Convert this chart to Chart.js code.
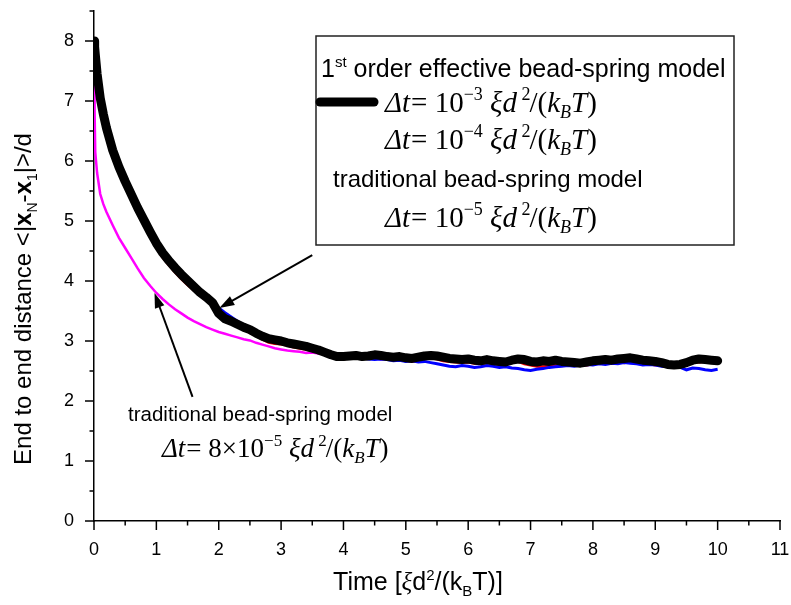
<!DOCTYPE html>
<html><head><meta charset="utf-8">
<script src="https://cdn.jsdelivr.net/npm/chart.js@4/dist/chart.umd.min.js"></script>
<style>html,body{margin:0;padding:0;background:#fff;}canvas{display:block;}</style>
</head><body>
<canvas id="c" width="791" height="605"></canvas>
<script>
// ---- data ----
const time = [0,0.01,0.02,0.05,0.1,0.15,0.2,
  0.3,0.4,0.5,0.6,0.7,0.8,0.9,1.0,
  1.1,1.2,1.3,1.4,1.5,1.6,1.7,1.8,1.9,2.0,
  2.1,2.2,2.3,2.4,2.5,2.6,2.7,2.8,2.9,3.0,
  3.1,3.2,3.3,3.4,3.5,3.6,3.7,3.8,3.9,4.0,
  4.1,4.2,4.3,4.4,4.5,4.6,4.7,4.8,4.9,5.0,
  5.1,5.2,5.3,5.4,5.5,5.6,5.7,5.8,5.9,6.0,
  6.1,6.2,6.3,6.4,6.5,6.6,6.7,6.8,6.9,7.0,
  7.1,7.2,7.3,7.4,7.5,7.6,7.7,7.8,7.9,8.0,
  8.1,8.2,8.3,8.4,8.5,8.6,8.7,8.8,8.9,9.0,
  9.1,9.2,9.3,9.4,9.5,9.6,9.7,9.8,9.9,10.0];

// 1st order effective bead-spring model, dt = 1e-3 (black)
const effDt1e3 = [8.0,7.9,7.78,7.45,7.05,6.78,6.55,
  6.18,5.9,5.66,5.44,5.22,5.02,4.82,4.63,
  4.47,4.34,4.22,4.11,4.01,3.91,3.81,3.73,3.64,3.46,
  3.37,3.33,3.28,3.23,3.19,3.13,3.08,3.04,3.02,3.0,
  2.97,2.95,2.93,2.91,2.88,2.85,2.81,2.77,2.74,2.74,
  2.75,2.76,2.74,2.75,2.77,2.76,2.74,2.73,2.74,2.72,
  2.71,2.73,2.75,2.76,2.75,2.73,2.71,2.7,2.69,2.7,
  2.68,2.67,2.69,2.67,2.66,2.65,2.68,2.7,2.69,2.66,
  2.65,2.67,2.66,2.68,2.66,2.65,2.64,2.63,2.65,2.67,
  2.68,2.69,2.68,2.7,2.71,2.72,2.7,2.68,2.67,2.66,
  2.64,2.61,2.6,2.61,2.64,2.68,2.7,2.69,2.68,2.67];

// 1st order effective bead-spring model, dt = 1e-4 (red)
const effDt1e4 = [8.0,7.88,7.75,7.4,7.0,6.72,6.5,
  6.12,5.84,5.6,5.37,5.15,4.95,4.75,4.56,
  4.4,4.27,4.15,4.04,3.94,3.85,3.76,3.68,3.6,3.52,
  3.42,3.33,3.26,3.2,3.14,3.09,3.03,2.98,2.96,2.95,
  2.93,2.9,2.88,2.86,2.84,2.81,2.78,2.75,2.72,2.7,
  2.72,2.71,2.72,2.73,2.72,2.7,2.71,2.69,2.7,2.68,
  2.66,2.68,2.7,2.72,2.7,2.67,2.66,2.65,2.64,2.65,
  2.63,2.62,2.64,2.63,2.61,2.62,2.64,2.66,2.62,2.6,
  2.58,2.57,2.58,2.6,2.62,2.6,2.61,2.59,2.6,2.62,
  2.64,2.63,2.65,2.66,2.64,2.66,2.65,2.63,2.62,2.6,
  2.61,2.58,2.57,2.59,2.62,2.64,2.65,2.66,2.64,2.65];

// traditional bead-spring model, dt = 1e-5 (blue)
const tradDt1e5 = [8.0,7.9,7.78,7.44,7.04,6.77,6.54,
  6.17,5.89,5.65,5.43,5.21,5.01,4.81,4.62,
  4.46,4.33,4.21,4.1,4.0,3.9,3.8,3.72,3.63,3.55,
  3.47,3.4,3.33,3.27,3.2,3.15,3.1,3.06,3.03,3.01,
  2.98,2.95,2.92,2.89,2.86,2.83,2.79,2.76,2.74,2.73,
  2.74,2.74,2.72,2.7,2.69,2.7,2.69,2.67,2.68,2.66,
  2.67,2.65,2.66,2.64,2.62,2.6,2.58,2.57,2.59,2.58,
  2.56,2.57,2.59,2.58,2.56,2.57,2.55,2.54,2.52,2.51,
  2.53,2.54,2.56,2.57,2.58,2.59,2.58,2.6,2.61,2.6,
  2.62,2.61,2.63,2.62,2.64,2.63,2.62,2.6,2.61,2.6,
  2.58,2.57,2.59,2.56,2.52,2.55,2.54,2.52,2.51,2.53];

// traditional bead-spring model, dt = 8e-5 (magenta)
const tradDt8e5 = [7.5,6.8,6.15,5.8,5.45,5.28,5.15,
  4.93,4.72,4.55,4.38,4.21,4.05,3.92,3.8,
  3.7,3.61,3.53,3.46,3.39,3.33,3.28,3.23,3.19,3.15,
  3.12,3.09,3.06,3.03,3.01,2.97,2.94,2.91,2.88,2.86,
  2.84,2.83,2.82,2.8,2.81,2.79,2.78,2.77,2.76,2.75,
  2.74,2.75,2.73,2.74,2.72,2.73,2.72,2.71,2.72,2.7,
  2.71,2.72,2.73,2.72,2.71,2.7,2.69,2.68,2.67,2.68,
  2.67,2.66,2.67,2.66,2.65,2.66,2.67,2.68,2.66,2.65,
  2.64,2.65,2.64,2.66,2.65,2.64,2.63,2.62,2.64,2.65,
  2.66,2.67,2.66,2.68,2.69,2.7,2.68,2.66,2.65,2.64,
  2.63,2.61,2.6,2.61,2.63,2.66,2.68,2.67,2.66,2.66];

const xTickLabels = ['0','1','2','3','4','5','6','7','8','9','10','11'];
const yTickLabels = ['0','1','2','3','4','5','6','7','8'];

// ---- helpers ----
const SANS = '"Liberation Sans", Arial, sans-serif';
const SERIF = '"Liberation Serif", "Times New Roman", serif';
function pts(ys){ return time.map((t,i)=>({x:t,y:ys[i]})); }

function richWidth(ctx, parts){
  let w=0; for(const p of parts){ ctx.font=p.f; w+=ctx.measureText(p.t).width+(p.dx||0); } return w;
}
function drawRich(ctx, parts, x, y, align){
  const w = richWidth(ctx, parts);
  let cx = align==='center' ? x-w/2 : x;
  ctx.textAlign='left'; ctx.textBaseline='alphabetic';
  for(const p of parts){
    ctx.font=p.f; cx+=(p.dx||0);
    ctx.fillText(p.t, cx, y+(p.dy||0));
    cx+=ctx.measureText(p.t).width;
  }
}
function formula(S, coef, exp){
  const I='italic '+S+'px '+SERIF, R=S+'px '+SERIF;
  const s=Math.round(S*0.62), sm=s+'px '+SERIF, smI='italic '+s+'px '+SERIF;
  const up=-Math.round(S*0.4), dn=Math.round(S*0.22);
  return [
    {t:'\u0394t',f:I},{t:'=',f:R,dx:1},{t:' '+coef,f:R},{t:'\u2212'+exp,f:sm,dy:up},
    {t:' ',f:R},{t:'\u03BEd',f:I},{t:' ',f:sm},{t:'2',f:sm,dy:up},{t:'/',f:R,dx:-1},
    {t:'(',f:R},{t:'k',f:I},{t:'B',f:smI,dy:dn},{t:'T',f:I},{t:')',f:R}
  ];
}
function arrow(ctx, x1,y1,x2,y2){
  const a=Math.atan2(y2-y1,x2-x1), L=15, W=5;
  ctx.beginPath(); ctx.moveTo(x1,y1); ctx.lineTo(x2-Math.cos(a)*L*0.8,y2-Math.sin(a)*L*0.8); ctx.stroke();
  ctx.beginPath(); ctx.moveTo(x2,y2);
  ctx.lineTo(x2-Math.cos(a)*L+Math.sin(a)*W, y2-Math.sin(a)*L-Math.cos(a)*W);
  ctx.lineTo(x2-Math.cos(a)*L-Math.sin(a)*W, y2-Math.sin(a)*L+Math.cos(a)*W);
  ctx.closePath(); ctx.fill();
}

// annotation arrows in data coordinates
const arrows = [
  {from:[3.5,4.43], to:[2.01,3.55]},
  {from:[1.58,2.07], to:[0.97,3.8]}
];

const decor = {
  id:'decor',
  afterDraw(chart){
    const ctx=chart.ctx, xs=chart.scales.x, ys=chart.scales.y;
    ctx.save();
    ctx.strokeStyle='#000'; ctx.fillStyle='#000'; ctx.lineWidth=1.5;
    // ticks (major + minor)
    xs.ticks.forEach(t=>{
      const px=xs.getPixelForValue(t.value), L=Number.isInteger(t.value)?9:4.5;
      ctx.beginPath(); ctx.moveTo(px,xs.top); ctx.lineTo(px,xs.top+L); ctx.stroke();
    });
    ys.ticks.forEach(t=>{
      const py=ys.getPixelForValue(t.value), L=Number.isInteger(t.value)?9:4.5;
      ctx.beginPath(); ctx.moveTo(ys.right,py); ctx.lineTo(ys.right-L,py); ctx.stroke();
    });
    // axis titles
    const ts=24, tf=ts+'px '+SANS, tb='bold '+ts+'px '+SANS, tsm=Math.round(ts*0.6)+'px '+SANS;
    const xt=25, xf=xt+'px '+SANS, xsm=Math.round(xt*0.6)+'px '+SANS;
    drawRich(ctx,[
      {t:'Time [',f:xf},{t:'\u03BE',f:'italic '+xt+'px '+SERIF},{t:'d',f:xf},{t:'2',f:xsm,dy:-10},
      {t:'/(k',f:xf},{t:'B',f:xsm,dy:6},{t:'T)]',f:xf}
    ], 418, 590, 'center');
    ctx.save(); ctx.translate(31,299); ctx.rotate(-Math.PI/2);
    drawRich(ctx,[
      {t:'End to end distance <|',f:tf},{t:'x',f:tb},{t:'N',f:tsm,dy:6},{t:'-',f:tf},
      {t:'x',f:tb},{t:'1',f:tsm,dy:6},{t:'|>/d',f:tf}
    ], 0, 0, 'center');
    ctx.restore();
    // legend box
    ctx.lineWidth=1.5; ctx.strokeStyle='#222';
    ctx.fillStyle='#fff'; ctx.fillRect(316,36,418,209);
    ctx.strokeRect(316,36,418,209);
    ctx.fillStyle='#000';
    const L1=25;
    drawRich(ctx,[{t:'1',f:L1+'px '+SANS},{t:'st',f:'15px '+SANS,dy:-10},{t:' order effective bead-spring model',f:L1+'px '+SANS}],321,77,'left');
    const ds0=chart.data.datasets[0];
    ctx.strokeStyle=ds0.borderColor; ctx.lineWidth=ds0.borderWidth; ctx.lineCap='round';
    ctx.beginPath(); ctx.moveTo(320,102); ctx.lineTo(374,102); ctx.stroke();
    ctx.lineCap='butt';
    const FS=29;
    drawRich(ctx, formula(FS,'10','3'), 385, 112, 'left');
    drawRich(ctx, formula(FS,'10','4'), 385, 149, 'left');
    drawRich(ctx,[{t:'traditional bead-spring model',f:'24px '+SANS}],333,187,'left');
    drawRich(ctx, formula(FS,'10','5'), 385, 227, 'left');
    // lower annotation
    drawRich(ctx,[{t:'traditional bead-spring model',f:'20.5px '+SANS}],128,421,'left');
    drawRich(ctx, formula(27,'8\u00D710','5'), 162, 457, 'left');
    // arrows
    ctx.strokeStyle='#000'; ctx.fillStyle='#000'; ctx.lineWidth=2;
    arrows.forEach(a=>arrow(ctx, xs.getPixelForValue(a.from[0]), ys.getPixelForValue(a.from[1]),
                               xs.getPixelForValue(a.to[0]), ys.getPixelForValue(a.to[1])));
    ctx.restore();
  }
};

const tickFont = {family:'"Liberation Sans", Arial, sans-serif', size:18};
new Chart(document.getElementById('c'), {
  type:'line',
  data:{ datasets:[
    {label:'dt=1e-3 effective', data:pts(effDt1e3), borderColor:'#000000', borderWidth:9, borderCapStyle:'round', borderJoinStyle:'round'},
    {label:'dt=1e-5 traditional', data:pts(tradDt1e5), borderColor:'#0000ff', borderWidth:3},
    {label:'dt=1e-4 effective', data:pts(effDt1e4), borderColor:'#ff0000', borderWidth:3},
    {label:'dt=8e-5 traditional', data:pts(tradDt8e5), borderColor:'#ff00ff', borderWidth:2.5}
  ]},
  options:{
    responsive:false, animation:false, devicePixelRatio:1,
    elements:{point:{radius:0}, line:{tension:0, fill:false}},
    layout:{padding:{top:11,right:11,left:0,bottom:0}},
    plugins:{legend:{display:false}, tooltip:{enabled:false}},
    scales:{
      x:{type:'linear', min:0, max:11,
        ticks:{stepSize:0.5, autoSkip:false, maxRotation:0, color:'#000', font:tickFont, padding:10,
          callback:(v)=>Number.isInteger(v)?xTickLabels[v]:''},
        grid:{display:false}, border:{display:true,color:'#000',width:1.5},
        afterFit:(s)=>{s.height=84; s.paddingLeft=0; s.paddingRight=0;}},
      y:{type:'linear', min:0, max:8.5,
        ticks:{stepSize:0.5, autoSkip:false, color:'#000', font:tickFont, padding:12,
          callback:(v)=>Number.isInteger(v)?yTickLabels[v]:''},
        grid:{display:false}, border:{display:true,color:'#000',width:1.5},
        afterFit:(s)=>{s.width=94; s.paddingTop=0; s.paddingBottom=0;}}
    }
  },
  plugins:[decor]
});
</script>
</body></html>
